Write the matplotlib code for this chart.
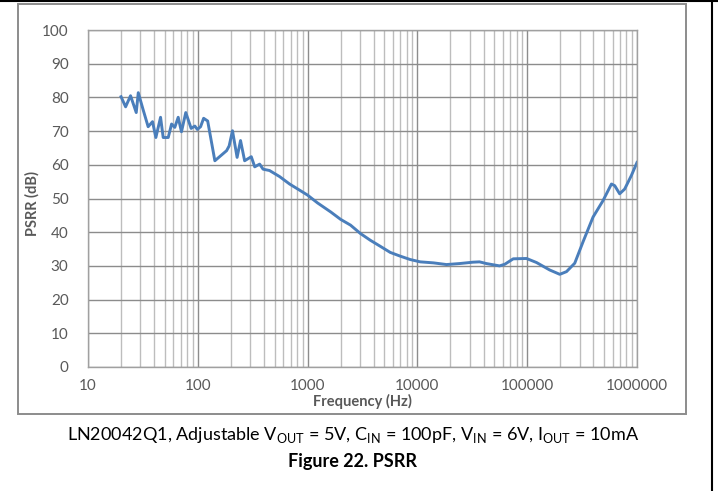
import matplotlib
matplotlib.use('Agg')
import matplotlib.pyplot as plt
from matplotlib.patches import Rectangle
from matplotlib.lines import Line2D
from matplotlib.ticker import FixedLocator, FuncFormatter, NullFormatter

plt.rcParams['font.family'] = ['Lato', 'DejaVu Sans']
plt.rcParams['mathtext.fontset'] = 'custom'
plt.rcParams['mathtext.rm'] = 'Lato'

# PSRR curve
freq_hz = [20, 22, 24.4, 27.5, 28.7, 31.8, 35.3, 38.7, 41.5, 45.8, 48.4, 53.8,
           57.7, 61.7, 66.3, 71, 77.7, 87, 94, 99, 106, 113, 123, 143, 183,
           193, 207, 228, 245, 267, 307, 330, 366, 393, 450, 556, 685, 843,
           1000, 1230, 1625, 2000, 2460, 3030, 3730, 4600, 5660, 6970, 8580,
           10600, 14000, 18400, 24300, 32000, 36800, 42400, 56000, 62600,
           74600, 98600, 121600, 160000, 198000, 228000, 271000, 323000,
           398000, 491000, 585000, 627000, 695000, 772000, 888000, 1000000]
psrr_db = [80.2, 77.2, 80.5, 75.5, 81.4, 76.3, 71.3, 72.8, 68.1, 74.1, 68.1, 68.1,
           72.1, 71.1, 74.1, 69.8, 75.5, 70.8, 71.5, 70.5, 71.3, 73.8, 73.0, 61.2, 64.2,
           65.6, 70.1, 62.2, 67.2, 61.2, 62.4, 59.4, 60.2, 58.7, 58.3, 56.5, 54.3, 52.5,
           51.0, 48.7, 46.0, 43.8, 42.1, 39.6, 37.6, 35.8, 34.0, 32.9, 31.9,
           31.2, 30.9, 30.4, 30.7, 31.1, 31.2, 30.7, 30.0, 30.5,
           32.1, 32.2, 31.0, 28.8, 27.5, 28.3, 30.8, 37.2,
           44.5, 49.4, 54.3, 53.8, 51.4, 52.8, 56.8, 60.7]

x_ticks = [10, 100, 1000, 10000, 100000, 1000000]
y_ticks = [0, 10, 20, 30, 40, 50, 60, 70, 80, 90, 100]

caption = (r"LN20042Q1, Adjustable V$_{\mathregular{OUT}}$ = 5V, "
           r"C$_{\mathregular{IN}}$ = 100pF, V$_{\mathregular{IN}}$ = 6V, "
           r"I$_{\mathregular{OUT}}$ = 10mA")
fig_title = "Figure 22. PSRR"

W, H = 718, 491
fig = plt.figure(figsize=(W / 100, H / 100), dpi=100)
ax = fig.add_axes([88 / W, 1 - 367 / H, (637 - 88) / W, (367 - 30) / H])

ax.plot(freq_hz, psrr_db, color='#4a7ebb', lw=2.1, solid_joinstyle='round')

ax.set_xscale('log')
ax.set_xlim(10, 1e6)
ax.set_ylim(0, 100)
ax.xaxis.set_major_locator(FixedLocator(x_ticks))
ax.xaxis.set_major_formatter(FuncFormatter(lambda v, p: '%d' % round(v)))
minors = [m * 10 ** d for d in range(1, 6) for m in range(2, 10)]
ax.xaxis.set_minor_locator(FixedLocator(minors))
ax.xaxis.set_minor_formatter(NullFormatter())
ax.set_yticks(y_ticks)

ax.grid(which='major', axis='both', color='#8c8c8c', lw=1.0)
ax.grid(which='minor', axis='x', color='#bdbdbd', lw=1.0)
ax.set_axisbelow(True)
for s in ax.spines.values():
    s.set_color('#a0a0a0')
    s.set_linewidth(1.0)

ax.tick_params(axis='x', which='both', length=0, pad=8.5, labelsize=11, labelcolor='#595959')
ax.tick_params(axis='y', length=0, pad=14, labelsize=11, labelcolor='#595959')

ax.set_xlabel('Frequency (Hz)', fontsize=10.5, fontweight='bold', color='#595959')
ax.set_ylabel('PSRR (dB)', fontsize=10.5, fontweight='bold', color='#595959')
ax.xaxis.set_label_coords(0.5, (367 - 394) / 337)
ax.yaxis.set_label_coords((40 - 88) / 549, (367 - 204) / 337)

# outer gray box round the chart
fig.patches.append(Rectangle((18 / W, 1 - 414 / H), 668 / W, 410 / H,
                             transform=fig.transFigure, fill=False,
                             edgecolor='#8c8c8c', lw=1.4))
fig.lines.append(Line2D([0, 1], [1 - 0.5 / H, 1 - 0.5 / H], transform=fig.transFigure,
                        color='black', lw=1.5))
fig.lines.append(Line2D([712 / W, 712 / W], [0, 1], transform=fig.transFigure,
                        color='black', lw=1.5))

fig.text(353 / W, 1 - 435 / H, caption, ha='center', va='center', fontsize=13)
fig.text(352 / W, 1 - 462 / H, fig_title, ha='center', va='center', fontsize=13,
         fontweight='bold')

fig.savefig('out.png', dpi=100)
